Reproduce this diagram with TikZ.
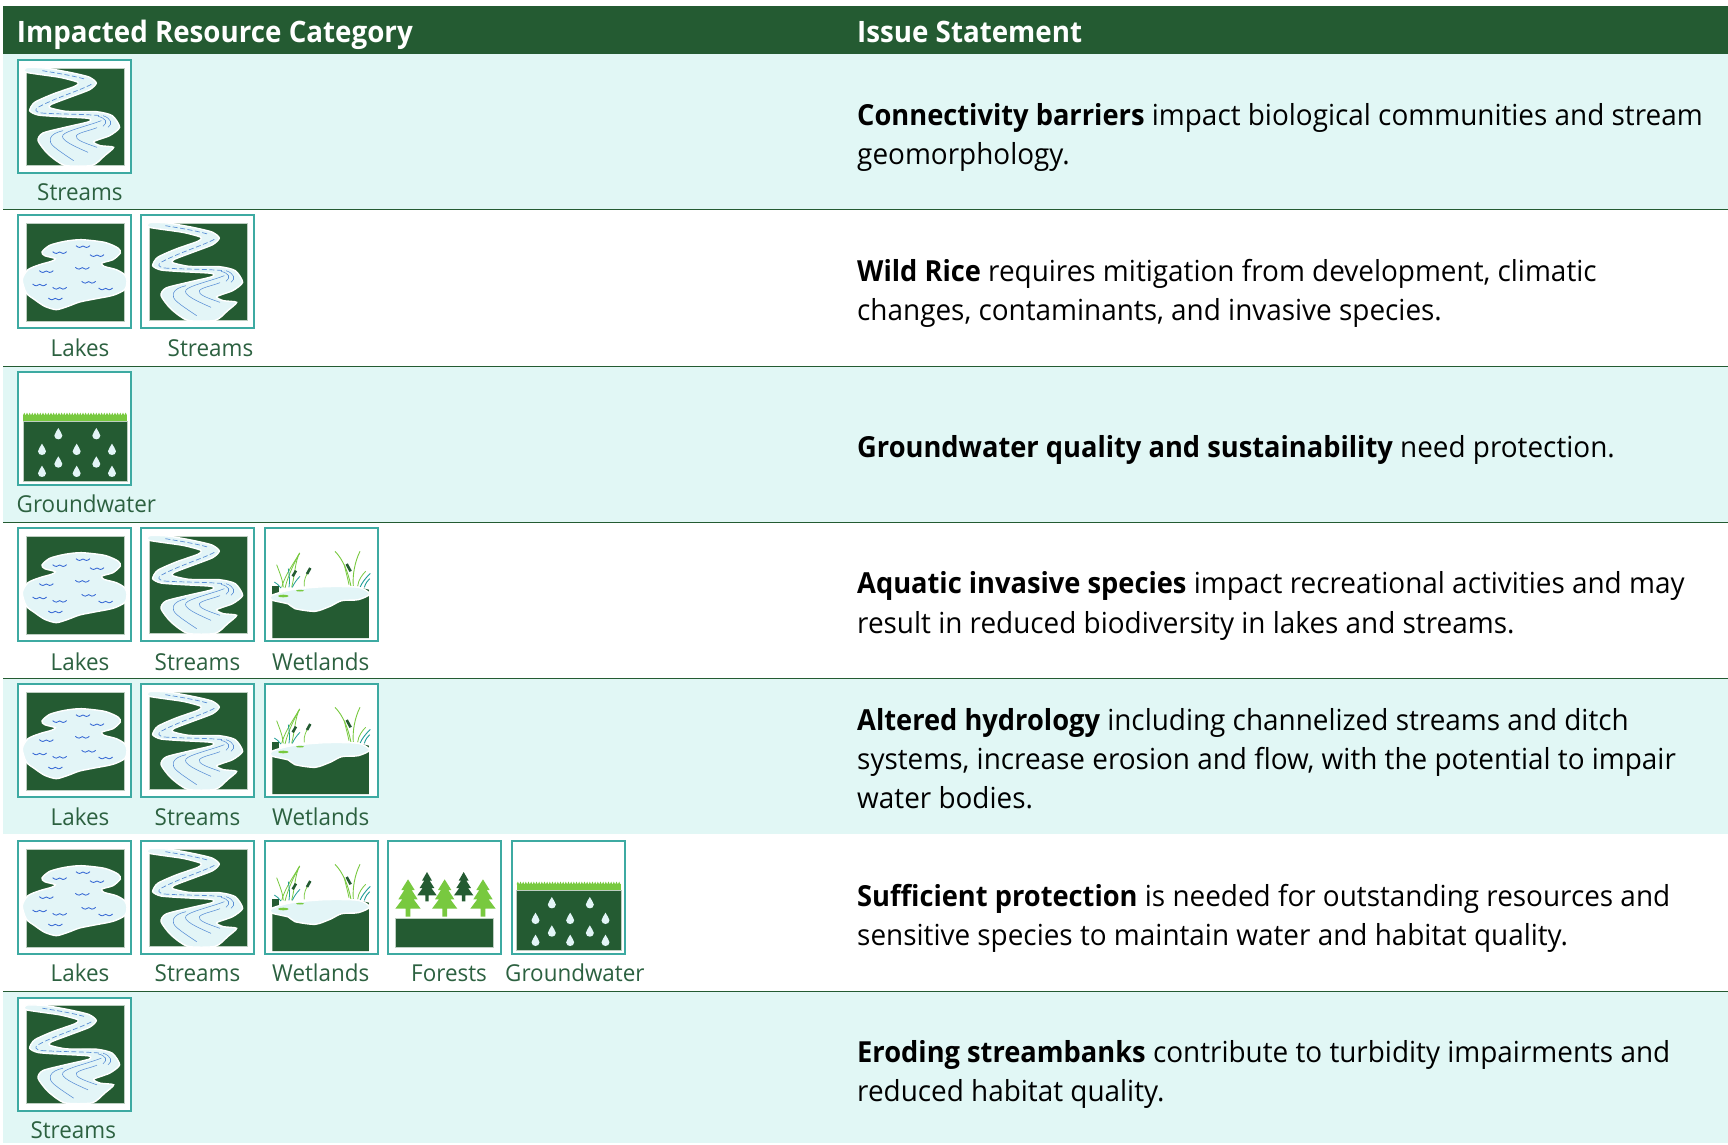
\documentclass[tikz,border=0pt]{standalone}
\usepackage{fontspec}
\setmainfont[FakeStretch=0.962,BoldFeatures={FakeStretch=0.94}]{Open Sans}
\definecolor{dkgreen}{HTML}{245B32}
\definecolor{band}{HTML}{E1F7F5}
\definecolor{tealf}{HTML}{3DAAA2}
\definecolor{ltgreen}{HTML}{78C93F}
\definecolor{riverc}{HTML}{E3F5F7}
\definecolor{bluel}{HTML}{5A8FD6}
\definecolor{wavec}{HTML}{3668D4}
\definecolor{labelc}{HTML}{2C6140}
\definecolor{reedteal}{HTML}{1E9C96}
\tikzset{
  hdr/.style={anchor=base west,inner sep=0pt,text=white,font=\fontsize{29.5}{34}\selectfont\bfseries},
  txt/.style={anchor=base west,inner sep=0pt,text=black,font=\fontsize{29}{39}\selectfont},
  lab/.style={anchor=base west,inner sep=0pt,text=labelc,font=\fontsize{23.3}{28}\selectfont},
  rowline/.style={draw=dkgreen,line width=1pt},
  iconframe/.style={draw=tealf,fill=white,line width=2pt},
  darkpart/.style={fill=dkgreen,draw=dkgreen!30!white,line width=.5pt},
  riverpart/.style={fill=riverc,draw=white,line width=1.4pt},
  bl/.style={draw=bluel,line width=.55pt},
  bldash/.style={draw=bluel,line width=.7pt,dash pattern=on 5pt off 2.5pt},
  wave/.style={draw=wavec,line width=.85pt},
  local/.style={x=0.3333pt,y=-0.3333pt,shift={(#1)}},
  pics/riverpic/.style={code={
    \draw[iconframe] (1pt,-1pt) rectangle (114pt,-114pt);
    \begin{scope}[local={-22,-20}]
      \draw[darkpart] (51,47) rectangle (343,339);
      \draw[riverpart] plot[smooth cycle,tension=.4] coordinates {(50,46) (105,47) (180,60) (238,74) (260,92) (240,112) (180,135) (125,156) (120,166) (170,177) (260,178) (308,190) (330,225) (300,250) (252,268) (272,280) (312,285) (285,310) (248,339) (165,339) (115,305) (85,265) (100,242) (170,224) (238,208) (236,198) (150,193) (85,188) (60,175) (75,150) (130,125) (195,102) (205,90) (150,75) (50,60)};
      \draw[bldash] (98,55) .. controls (140,62) and (180,68) .. (225,80);
      \draw[bldash] (245,96) .. controls (210,115) and (140,135) .. (85,165) .. controls (75,172) and (75,178) .. (95,182);
      \draw[bldash] (95,182) .. controls (150,186) and (220,185) .. (275,190);
      \draw[bl] (280,190) .. controls (305,198) and (310,215) .. (295,225);
      \draw[bl] (265,192) .. controls (290,198) and (295,210) .. (280,222);
      \draw[bl] (192,325) .. controls (140,290) and (115,275) .. (122,258) .. controls (128,245) and (140,240) .. (160,235);
      \draw[bl] (235,300) .. controls (190,280) and (150,262) .. (160,248) .. controls (170,235) and (230,222) .. (275,205);
      \draw[bl] (262,285) .. controls (225,272) and (195,262) .. (200,250) .. controls (208,240) and (240,235) .. (262,226);
    \end{scope}
  }},
  pics/lakepic/.style={code={
    \draw[iconframe] (1pt,-1pt) rectangle (114pt,-114pt);
    \begin{scope}[local={-22,-18}]
      \draw[darkpart] (51,47) rectangle (343,339);
      \draw[riverpart] plot[smooth cycle,tension=.45] coordinates {(38,215) (55,185) (90,170) (125,160) (137,152) (105,143) (97,132) (120,112) (165,100) (215,95) (285,103) (325,120) (332,135) (310,155) (277,165) (283,175) (320,185) (345,200) (352,220) (345,245) (310,262) (260,272) (210,282) (175,295) (140,305) (105,295) (75,275) (50,255)};
      \foreach \a/\b in {150/133,220/115,262/142,218/180,110/190,237/222,90/230,150/240,288/242,137/272}
        \draw[wave,shift={(\a,\b)}] (-21,-2) .. controls (-14,5) and (-5,5) .. (0,-1) .. controls (5,5) and (14,5) .. (21,-2);
    \end{scope}
  }},
  pics/wetpic/.style={code={
    \draw[iconframe] (1pt,-1pt) rectangle (114pt,-114pt);
    \begin{scope}[local={-17,-17}]
      \fill[dkgreen] (42,195) -- (62,195) -- (62,220) -- (42,220) -- cycle;
      \fill[dkgreen] (310,200) -- (332,205) -- (332,225) -- (310,225) -- cycle;
      \foreach \p/\q/\c in {80/200/ltgreen,70/198/ltgreen,100/198/ltgreen}
        \draw[ltgreen,line width=.8pt] (\p,\q) .. controls (\p+10,160) and (110,120) .. (124,95);
      \draw[ltgreen,line width=.8pt] (75,198) .. controls (72,170) and (62,150) .. (55,130);
      \draw[reedteal,line width=.8pt] (92,198) .. controls (95,180) and (93,160) .. (90,142);
      \draw[reedteal,line width=.8pt] (68,200) .. controls (62,192) and (55,186) .. (48,182);
      \draw[reedteal,line width=.8pt] (102,198) .. controls (108,185) and (115,175) .. (125,165);
      \draw[ltgreen,line width=.7pt] (138,195) .. controls (135,175) and (145,160) .. (150,150);
      \draw[dkgreen,line width=2.6pt] (103,165) -- (113,148);
      \draw[dkgreen,line width=2.6pt] (146,158) -- (156,140);
      \draw[ltgreen,line width=.9pt] (278,195) .. controls (270,155) and (255,115) .. (230,90);
      \draw[ltgreen,line width=.9pt] (285,195) .. controls (282,160) and (290,120) .. (305,90);
      \draw[ltgreen,line width=.8pt] (272,190) .. controls (268,170) and (262,150) .. (258,130);
      \draw[ltgreen,line width=.8pt] (298,195) .. controls (300,175) and (312,160) .. (322,150);
      \draw[reedteal,line width=.9pt] (305,198) .. controls (310,185) and (322,170) .. (336,156);
      \draw[reedteal,line width=.9pt] (318,198) .. controls (322,185) and (328,178) .. (334,172);
      \draw[dkgreen,line width=2.6pt] (265,128) -- (277,150);
      \fill[dkgreen] (42,232) -- (42,350) -- (332,350) -- (332,218) -- cycle;
      \draw[riverpart] plot[smooth cycle,tension=.45] coordinates {(40,222) (100,205) (200,196) (300,198) (334,218) (300,235) (250,238) (215,255) (170,270) (110,262) (90,248) (40,236)};
      \fill[ltgreen] (75,224) ellipse (16 and 4);
      \fill[ltgreen] (125,208) ellipse (12 and 2.5);
    \end{scope}
  }},
  pics/forestpic/.style={code={
    \draw[iconframe] (1pt,-1pt) rectangle (114pt,-114pt);
    \begin{scope}[local={-17,-17}]
      \draw[darkpart] (42,252) rectangle (335,340);
      \foreach \c in {137,247}
        \fill[dkgreen,shift={(\c,113)}] (0,0) -- (15,26) -- (8,26) -- (22,48) -- (13,48) -- (29,70) -- (5,70) -- (5,88) -- (-5,88) -- (-5,70) -- (-29,70) -- (-13,48) -- (-22,48) -- (-8,26) -- (-15,26) -- cycle;
      \foreach \c in {80,190,305}
        \fill[ltgreen,shift={(\c,135)}] (0,0) -- (20,32) -- (11,32) -- (29,60) -- (17,60) -- (38,88) -- (7,88) -- (7,112) -- (-7,112) -- (-7,88) -- (-38,88) -- (-17,60) -- (-29,60) -- (-11,32) -- (-20,32) -- cycle;
    \end{scope}
  }},
  pics/groundpic/.style={code={
    \draw[iconframe] (1pt,-1pt) rectangle (114pt,-114pt);
    \begin{scope}[local={-14,-17}]
      \draw[darkpart] (32,168) rectangle (345,348);
      \fill[ltgreen] (32,150) rectangle (345,168);
      \foreach \i in {0,...,38}
        \fill[ltgreen,shift={(32+8*\i,150)}] (0,0) -- (4,-8) -- (8,0) -- cycle;
      \foreach \a/\b in {138/205,252/205,89/252,193/252,299/252,138/290,252/290,89/318,193/318,299/318}
        \fill[riverc,shift={(\a,\b)}] (0,-17) .. controls (3,-8) and (12,-2) .. (12,6) .. controls (12,13) and (6,17) .. (0,17) .. controls (-6,17) and (-12,13) .. (-12,6) .. controls (-12,-2) and (-3,-8) .. (0,-17) -- cycle;
    \end{scope}
  }}
}
\begin{document}
\begin{tikzpicture}[x=1pt,y=1pt]
\useasboundingbox (0,0) rectangle (1728,-1144);
\fill[white] (0,0) rectangle (1728,-1144);
\fill[dkgreen] (3,-6) rectangle (1728,-54);
\fill[band] (3,-54) rectangle (1728,-209.5);
\fill[band] (3,-366) rectangle (1728,-522.5);
\fill[band] (3,-678) rectangle (1728,-834);
\fill[band] (3,-991) rectangle (1728,-1143);
\foreach \yy in {209.5,366,522.5,678,991}
  \draw[rowline] (3,-\yy) -- (1728,-\yy);

\node[hdr] (h1) at (16.7,-42.2) {Impacted Resource Category};
\node[hdr] (h2) at (857,-42.2) {Issue Statement};

% row 1
\pic at (17,-59) {riverpic};
\node[lab] (l1a) at (37,-200) {Streams};
\node[txt] (t1a) at (857,-125) {\textbf{Connectivity barriers} impact biological communities and stream};
\node[txt] (t1b) at (857,-164) {geomorphology.};
% row 2
\pic at (17,-214) {lakepic};
\pic at (140,-214) {riverpic};
\node[lab] (l2a) at (50.5,-356) {Lakes};
\node[lab] (l2b) at (167.5,-356) {Streams};
\node[txt] (t2a) at (857,-281) {\textbf{Wild Rice} requires mitigation from development, climatic};
\node[txt] (t2b) at (857,-320) {changes, contaminants, and invasive species.};
% row 3
\pic at (17,-371) {groundpic};
\node[lab] (l3a) at (16.5,-512) {Groundwater};
\node[txt] (t3a) at (857,-457) {\textbf{Groundwater quality and sustainability} need protection.};
% row 4
\pic at (17,-527) {lakepic};
\pic at (140,-527) {riverpic};
\pic at (264,-527) {wetpic};
\node[lab] (l4a) at (50.5,-670) {Lakes};
\node[lab] (l4b) at (154.5,-670) {Streams};
\node[lab] (l4c) at (272,-670) {Wetlands};
\node[txt] (t4a) at (857,-593) {\textbf{Aquatic invasive species} impact recreational activities and may};
\node[txt] (t4b) at (857,-633) {result in reduced biodiversity in lakes and streams.};
% row 5
\pic at (17,-683) {lakepic};
\pic at (140,-683) {riverpic};
\pic at (264,-683) {wetpic};
\node[lab] (l5a) at (50.5,-825.5) {Lakes};
\node[lab] (l5b) at (154.5,-825.5) {Streams};
\node[lab] (l5c) at (272,-825.5) {Wetlands};
\node[txt] (t5a) at (857,-730) {\textbf{Altered hydrology} including channelized streams and ditch};
\node[txt] (t5b) at (857,-769) {systems, increase erosion and flow, with the potential to impair};
\node[txt] (t5c) at (857,-808) {water bodies.};
% row 6
\pic at (17,-840) {lakepic};
\pic at (140,-840) {riverpic};
\pic at (264,-840) {wetpic};
\pic at (387,-840) {forestpic};
\pic at (510.5,-840) {groundpic};
\node[lab] (l6a) at (50.5,-981) {Lakes};
\node[lab] (l6b) at (154.5,-981) {Streams};
\node[lab] (l6c) at (272,-981) {Wetlands};
\node[lab] (l6d) at (411,-981) {Forests};
\node[lab] (l6e) at (505,-981) {Groundwater};
\node[txt] (t6a) at (857,-906) {\textbf{Sufficient protection} is needed for outstanding resources and};
\node[txt] (t6b) at (857,-945) {sensitive species to maintain water and habitat quality.};
% row 7
\pic at (17,-996.5) {riverpic};
\node[lab] (l7a) at (30.3,-1138) {Streams};
\node[txt] (t7a) at (857,-1062) {\textbf{Eroding streambanks} contribute to turbidity impairments and};
\node[txt] (t7b) at (857,-1101) {reduced habitat quality.};
\end{tikzpicture}
\end{document}
